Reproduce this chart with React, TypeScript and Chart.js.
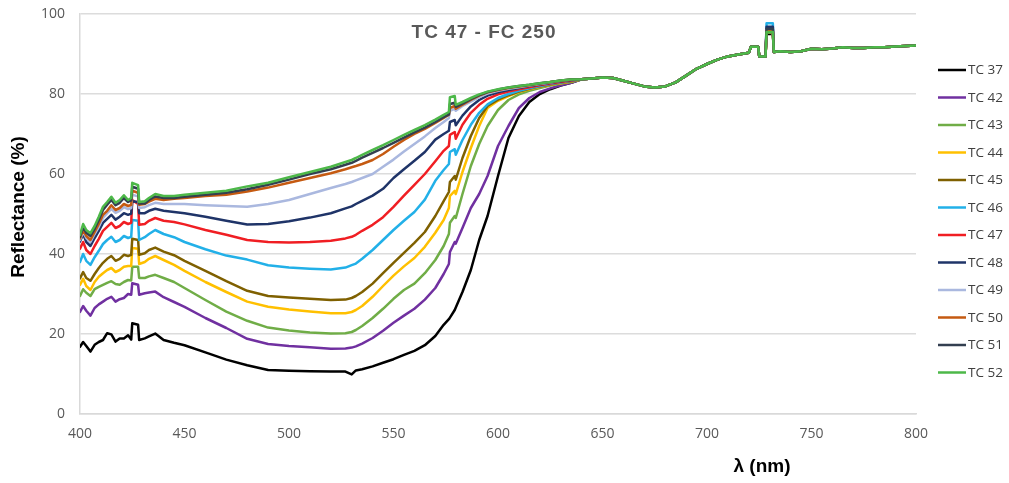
import React, { useEffect, useRef } from "react";
import { Chart, registerables } from "chart.js";

Chart.register(...registerables);

const chartTitle = "TC 47 - FC 250";
const xTitle = "λ (nm)";
const yTitle = "Reflectance (%)";

const seriesNames = ["TC 37", "TC 42", "TC 43", "TC 44", "TC 45", "TC 46", "TC 47", "TC 48", "TC 49", "TC 50", "TC 51", "TC 52"];
const seriesColors = ["#000000", "#7030A0", "#70AD47", "#FFC000", "#7F6000", "#22B0E8", "#F01E23", "#1F3468", "#AAB8DF", "#C55A11", "#333F50", "#4DB849"];

const xTicks = [400, 450, 500, 550, 600, 650, 700, 750, 800];
const yTicks = [0, 20, 40, 60, 80, 100];

// wavelengths (nm) where the curves still differ
const headWl = [400, 401.5, 403, 405, 407, 409, 411, 413, 415, 417,
  419, 421, 423, 424.5, 425, 427.8, 428.3, 431, 433, 436,
  440, 445, 450, 460, 470, 480, 490, 500, 510, 520,
  527, 530, 532, 535, 540, 545, 550, 555, 560, 565,
  570, 574, 576.5, 577, 579.3, 579.8, 583, 587, 591, 595,
  600, 605, 610, 615, 620, 625, 630, 635];

const tc37 = [16.8, 18, 17, 15.6, 17.3, 18, 18.5, 20.2, 19.9, 18.1,
  18.9, 18.9, 19.7, 18.6, 22.7, 22.3, 18.5, 18.9, 19.4, 20.1,
  18.5, 17.8, 17.2, 15.4, 13.6, 12.2, 11, 10.8, 10.7, 10.6,
  10.6, 9.9, 10.9, 11.2, 11.9, 12.8, 13.7, 14.8, 15.8, 17.2,
  19.5, 22.3, 23.7, 24.1, 26, 26.6, 30.5, 36, 43.5, 49.5,
  59.5, 69, 74.5, 78, 80, 81.2, 82.1, 82.8];
const tc42 = [25.5, 27, 25.8, 24.6, 26.5, 27.4, 28.1, 28.8, 29.3, 28.1,
  28.7, 29, 30, 29.8, 32.7, 32.3, 29.8, 30.2, 30.4, 30.6,
  29.2, 28, 26.8, 24, 21.5, 18.8, 17.5, 17, 16.7, 16.3,
  16.4, 16.6, 16.9, 17.6, 19, 20.8, 22.8, 24.6, 26.3, 28.6,
  31.5, 35, 37.5, 40.5, 43, 42.6, 46.5, 51.5, 55, 59.5,
  67, 72, 76.5, 79, 80.5, 81.4, 82.2, 82.8];
const tc43 = [29.5, 31.2, 30.3, 29.5, 31.2, 31.8, 32.3, 32.8, 33.2, 32.5,
  32.3, 33, 33.5, 33.4, 36.8, 36.8, 34, 34, 34.4, 34.8,
  34, 33, 31.5, 28.5, 25.6, 23.3, 21.6, 20.9, 20.4, 20.1,
  20.2, 20.5, 21, 22, 24, 26.3, 28.8, 31, 32.6, 35.2,
  38.5, 42, 45, 47.8, 49.5, 49, 55, 62, 67.5, 72,
  76, 78.5, 79.9, 80.8, 81.5, 82.1, 82.6, 83];
const tc44 = [32.3, 33.8, 32, 31, 33, 34.3, 35.2, 36, 36.5, 35.5,
  36, 36.8, 37, 37, 41.5, 41.3, 37.5, 38, 38.8, 39.5,
  38.5, 37.3, 35.8, 33, 30.5, 28.1, 26.8, 26.1, 25.6, 25.2,
  25.2, 25.5, 26, 27, 29.3, 32, 34.6, 36.9, 39, 41.8,
  45.3, 48.5, 51.5, 54.5, 55.8, 55, 60.5, 66.5, 72, 76.5,
  78.3, 79.5, 80.5, 81.2, 81.8, 82.3, 82.7, 83.1];
const tc45 = [33.9, 35.5, 34, 33.3, 35, 36.5, 37.8, 38.8, 39.5, 38.3,
  38.8, 39.8, 39.5, 39.8, 43.8, 43.5, 39.8, 40.2, 41, 41.6,
  40.6, 39.7, 38.3, 35.8, 33.2, 30.8, 29.5, 29.1, 28.8, 28.5,
  28.6, 29, 29.5, 30.5, 32.6, 35.2, 37.8, 40.3, 42.8, 45.5,
  49.5, 53.2, 55.5, 58, 59.5, 58.6, 64, 69.5, 74, 77,
  78.6, 79.7, 80.6, 81.3, 81.9, 82.4, 82.8, 83.2];
const tc46 = [38, 40, 38.3, 37.3, 39.2, 40.8, 42.5, 43.5, 44.3, 43,
  43.5, 44.5, 44, 44.3, 48.5, 48.3, 43.5, 44.2, 45, 46,
  45, 44.2, 43, 41.2, 39.6, 38.6, 37.2, 36.6, 36.3, 36.1,
  36.6, 37.2, 37.6, 38.8, 41, 43.5, 46, 48.3, 50.5, 53.6,
  58.3, 61, 62.5, 65.5, 66.2, 64.8, 68.5, 72.3, 75.3, 77.4,
  79, 80, 80.8, 81.4, 82, 82.5, 82.9, 83.3];
const tc47 = [41.3, 43, 41, 40, 42, 43.8, 45.8, 46.8, 47.8, 46.5,
  47, 48, 47.5, 47.8, 53.5, 52.5, 47.3, 47.5, 48.3, 49,
  48.3, 48, 47.4, 46, 44.8, 43.5, 43, 42.9, 43, 43.3,
  43.9, 44.3, 44.8, 45.8, 47.3, 49.2, 51.8, 54.6, 57.3, 60,
  63.2, 65.8, 67, 69.8, 70.5, 68.8, 72.3, 75.3, 77.3, 78.8,
  79.9, 80.6, 81.2, 81.7, 82.2, 82.6, 83, 83.4];
const tc48 = [43.1, 45, 43, 42, 44, 45.8, 47.8, 48.8, 49.8, 48.6,
  49.3, 50.2, 49.8, 50.1, 53.2, 53, 50.2, 50.2, 50.8, 51.3,
  50.8, 50.5, 50.2, 49.3, 48.3, 47.4, 47.5, 48.2, 49.1, 50.2,
  51.4, 51.9, 52.5, 53.3, 54.6, 56.3, 59, 61.2, 63.3, 65.5,
  68.6, 70, 70.8, 73, 73.5, 72.2, 74.6, 76.9, 78.5, 79.6,
  80.4, 81, 81.5, 82, 82.4, 82.8, 83.2, 83.5];
const tc49 = [43.5, 45.5, 44, 43, 45, 46.8, 49, 50.2, 51.3, 50.3,
  50.8, 51.7, 51.2, 51.5, 54.8, 54.4, 51.5, 51.7, 52.2, 52.8,
  52.5, 52.5, 52.5, 52.2, 52, 51.8, 52.5, 53.5, 55, 56.5,
  57.5, 58, 58.4, 59, 60, 61.8, 63.6, 65.6, 67.5, 69.4,
  71.5, 73, 74, 75.8, 76.3, 75.8, 77, 78.1, 79.2, 80.1,
  80.8, 81.3, 81.7, 82.1, 82.5, 82.9, 83.3, 83.6];
const tc50 = [43.9, 46, 44.5, 43.5, 45.5, 47.5, 49.8, 50.8, 52.2, 51,
  51.5, 52.5, 52, 52.3, 55.8, 55.3, 52.3, 52.5, 53.1, 53.8,
  53.5, 53.8, 54, 54.5, 54.8, 55.6, 56.6, 57.8, 59, 60.2,
  61.2, 61.7, 62, 62.5, 63.5, 65, 66.8, 68.5, 70, 71.3,
  72.8, 74, 74.8, 76.5, 77, 76.3, 77.3, 78.5, 79.6, 80.4,
  81, 81.5, 81.9, 82.2, 82.6, 83, 83.3, 83.6];
const tc51 = [44.3, 46.8, 45.3, 44.5, 46.3, 48.5, 51, 52.3, 53.5, 52.2,
  52.8, 54, 53, 53.4, 56.8, 56.3, 52.6, 52.6, 53.5, 54.4,
  54, 54, 54.3, 54.8, 55.3, 56.2, 57.3, 58.6, 60, 61.2,
  62.3, 62.8, 63.3, 64.1, 65.3, 66.5, 67.8, 69.1, 70.4, 71.6,
  73, 74.2, 74.9, 77.5, 77.8, 76.8, 77.6, 78.7, 79.7, 80.5,
  81.1, 81.6, 82, 82.3, 82.7, 83, 83.4, 83.6];
const tc52 = [44.75, 47.5, 46, 45.2, 47, 49.3, 51.8, 53, 54.3, 52.8,
  53.5, 54.7, 53.5, 54, 57.8, 57.2, 53, 53.2, 54, 55,
  54.5, 54.5, 54.8, 55.3, 55.8, 56.9, 57.8, 59.2, 60.5, 61.8,
  63, 63.5, 64, 64.8, 66, 67.2, 68.5, 69.8, 71, 72.2,
  73.6, 74.8, 75.5, 79.2, 79.5, 77.3, 78, 79, 79.9, 80.6,
  81.2, 81.6, 82, 82.3, 82.7, 83, 83.4, 83.6];

// wavelengths (nm) where all curves coincide
const tailWl = [640, 645, 650, 655, 660, 665, 670, 675, 680, 685,
  690, 695, 700, 705, 710, 715, 720, 721, 724.5, 725,
  728, 728.5, 731.5, 732, 735, 740, 745, 750, 755, 760,
  765, 770, 775, 780, 785, 790, 795, 800];
// null = spike top, taken from spikePeaks per series
const tailCommon = [83.7, 83.9, 84.1, 84, 83.3, 82.6, 81.9, 81.6, 81.9, 82.9,
  84.6, 86.3, 87.5, 88.6, 89.4, 89.9, 90.3, 91.8, 91.8, 89.4,
  89.4, null, null, 90.5, 90.7, 90.5, 90.7, 91.3, 91.2, 91.4,
  91.7, 91.5, 91.5, 91.7, 91.7, 91.9, 92, 92.1];
const spikePeaks = [95, 95.6, 95.3, 95.8, 95.5, 97.7, 96, 96.8, 96, 95.8, 96.3, 95.5];

const seriesHeads = [tc37, tc42, tc43, tc44, tc45, tc46, tc47, tc48, tc49, tc50, tc51, tc52];

const textPlugin = {
  id: "customTexts",
  afterDraw(chart: any) {
    const ctx = chart.ctx as CanvasRenderingContext2D;
    ctx.save();
    // chart title
    ctx.fillStyle = "#595959";
    ctx.font = 'bold 19px "Liberation Sans", Arial, sans-serif';
    ctx.textAlign = "center";
    ctx.textBaseline = "middle";
    (ctx as any).letterSpacing = "1px";
    ctx.fillText(chartTitle, 484, 33);
    (ctx as any).letterSpacing = "0px";
    // x title
    ctx.fillStyle = "#000000";
    ctx.font = 'bold 19px "Liberation Sans", Arial, sans-serif';
    ctx.fillText(xTitle, 762, 467);
    // y title
    ctx.save();
    ctx.translate(19, 207);
    ctx.rotate(-Math.PI / 2);
    ctx.font = 'bold 19px "Liberation Sans", Arial, sans-serif';
    ctx.fillText(yTitle, 0, 0);
    ctx.restore();
    // legend
    const x0 = chart.chartArea.right + 22;
    chart.data.datasets.forEach((ds: any, i: number) => {
      const y = 70 + i * 27.5;
      ctx.strokeStyle = ds.borderColor;
      ctx.lineWidth = 2.5;
      ctx.beginPath();
      ctx.moveTo(x0, y);
      ctx.lineTo(x0 + 28, y);
      ctx.stroke();
      ctx.fillStyle = "#404040";
      ctx.font = '13.5px "Open Sans", sans-serif';
      ctx.textAlign = "left";
      ctx.textBaseline = "middle";
      ctx.fillText(ds.label, x0 + 30, y + 0.5);
    });
    ctx.restore();
  },
};

export default function App() {
  const ref = useRef<HTMLCanvasElement>(null);
  useEffect(() => {
    if (!ref.current) return;
    const datasets = seriesHeads.map((head, s) => {
      const pts: { x: number; y: number }[] = headWl.map((x, i) => ({ x, y: head[i] }));
      tailWl.forEach((x, i) => {
        const v = tailCommon[i];
        pts.push({ x, y: v === null ? spikePeaks[s] : v });
      });
      return {
        label: seriesNames[s],
        data: pts,
        borderColor: seriesColors[s],
        backgroundColor: seriesColors[s],
        borderWidth: 2.5,
        pointRadius: 0,
        tension: 0,
        borderJoinStyle: "round" as const,
        borderCapStyle: "round" as const,
        order: seriesHeads.length - 1 - s,
      };
    });
    const chart = new Chart(ref.current, {
      type: "line",
      data: { datasets },
      options: {
        responsive: false,
        maintainAspectRatio: false,
        animation: false,
        layout: { padding: { top: 14, right: 93, left: 0, bottom: 0 } },
        plugins: { legend: { display: false }, tooltip: { enabled: false }, title: { display: false } },
        scales: {
          x: {
            type: "linear",
            min: 400,
            max: 800,
            afterBuildTicks: (scale: any) => {
              scale.ticks = xTicks.map((v) => ({ value: v }));
            },
            afterFit: (scale: any) => {
              scale.height = 69;
            },
            ticks: { color: "#595959", font: { family: '"Open Sans", sans-serif', size: 14 }, padding: 12 },
            grid: { display: false, drawTicks: false },
            border: { display: true, color: "#d9d9d9", width: 1.5 },
          },
          y: {
            type: "linear",
            min: 0,
            max: 100,
            afterBuildTicks: (scale: any) => {
              scale.ticks = yTicks.map((v) => ({ value: v }));
            },
            afterFit: (scale: any) => {
              scale.width = 80;
              scale.paddingTop = 8;
              scale.paddingBottom = 8;
            },
            ticks: { color: "#595959", font: { family: '"Open Sans", sans-serif', size: 14 }, padding: 15 },
            grid: { color: "#dcdcdc", lineWidth: 1.5, drawTicks: false },
            border: { display: true, color: "#d9d9d9", width: 1.5 },
          },
        },
      },
      plugins: [textPlugin],
    });
    return () => chart.destroy();
  }, []);
  return (
    <div style={{ position: "absolute", left: 0, top: 0, width: 1009, height: 483, background: "#fff" }}>
      <canvas ref={ref} width={1009} height={483} style={{ width: 1009, height: 483, display: "block" }} />
    </div>
  );
}
